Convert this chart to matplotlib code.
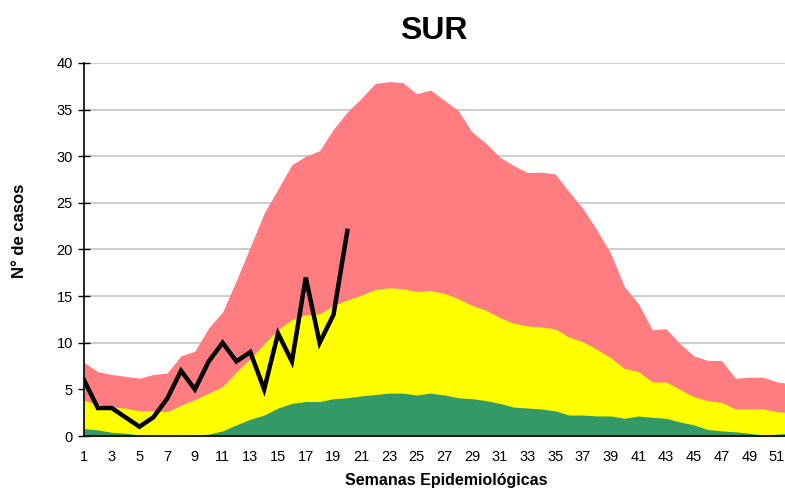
import matplotlib
matplotlib.use("Agg")
import matplotlib.pyplot as plt
from matplotlib import font_manager

weeks = list(range(1, 53))
green_top = [0.8, 0.65, 0.4, 0.3, 0.1, 0.0, 0.0, 0.0, 0.1, 0.2,
             0.55, 1.2, 1.8, 2.25, 3.0, 3.5, 3.7, 3.7, 4.0, 4.1,
             4.3, 4.45, 4.6, 4.6, 4.4, 4.6, 4.4, 4.1, 4.0, 3.8,
             3.5, 3.1, 3.0, 2.9, 2.7, 2.25, 2.25, 2.15, 2.15, 1.9,
             2.15, 2.0, 1.9, 1.5, 1.2, 0.7, 0.55, 0.45, 0.3, 0.1,
             0.2, 0.3]
yellow_top = [3.8, 3.4, 3.1, 3.0, 2.7, 2.7, 2.6, 3.3, 3.9, 4.6,
              5.3, 6.9, 8.3, 9.9, 11.4, 12.5, 13.0, 13.1, 14.0, 14.6,
              15.1, 15.7, 15.9, 15.8, 15.5, 15.6, 15.3, 14.75, 14.0, 13.5,
              12.7, 12.1, 11.8, 11.7, 11.5, 10.6, 10.1, 9.3, 8.4, 7.25,
              6.9, 5.8, 5.8, 5.0, 4.2, 3.8, 3.6, 2.9, 2.9, 2.9,
              2.6, 2.5]
red_top = [7.9, 6.9, 6.6, 6.4, 6.2, 6.6, 6.75, 8.6, 9.1, 11.6,
           13.3, 16.7, 20.3, 23.9, 26.5, 29.1, 30.0, 30.6, 32.9, 34.75,
           36.2, 37.8, 38.0, 37.9, 36.7, 37.1, 36.0, 34.9, 32.6, 31.4,
           29.9, 29.0, 28.25, 28.3, 28.1, 26.2, 24.4, 22.1, 19.6, 16.0,
           14.2, 11.4, 11.5, 9.9, 8.6, 8.1, 8.1, 6.2, 6.3, 6.3,
           5.8, 5.6]
case_weeks = list(range(1, 21))
cases = [6, 3, 3, 2, 1, 2, 4, 7, 5, 8, 10, 8, 9, 5, 11, 8, 17, 10, 13, 22]
xtick_labels = [str(w) for w in range(1, 52, 2)]
yticks = [0, 5, 10, 15, 20, 25, 30, 35, 40]

names = {f.name for f in font_manager.fontManager.ttflist}
narrow = 'Liberation Sans Narrow' if 'Liberation Sans Narrow' in names else 'Liberation Sans'
plt.rcParams['font.family'] = ['Liberation Sans', 'DejaVu Sans']

fig = plt.figure(figsize=(7.85, 4.93), dpi=100)
ax = fig.add_axes([84/785, 57/493, 1 - 84/785, 373/493])
ax.set_axisbelow(True)

ax.fill_between(weeks, 0, red_top, color='#FF7C80', lw=0, zorder=1)
ax.fill_between(weeks, 0, yellow_top, color='#FFFF00', lw=0, zorder=2)
ax.fill_between(weeks, 0, green_top, color='#339966', lw=0, zorder=3)
ax.plot(case_weeks, cases, color='black', lw=3.2, zorder=5, solid_joinstyle='miter')

ax.set_xlim(1, 1 + (785 - 84) / 13.86)
ax.set_ylim(0, 40)
ax.set_yticks(yticks)
ax.set_yticklabels([str(v) for v in yticks], fontsize=10.5)
ax.set_xticks(list(range(1, 52, 2)))
ax.set_xticklabels(xtick_labels, fontsize=10.5, family=[narrow, 'DejaVu Sans'])
ax.tick_params(axis='x', length=0, pad=10)
ax.tick_params(axis='y', direction='inout', length=8, width=1, pad=4)
ax.yaxis.grid(True, color='#C8C8C8', lw=1.3)
for s in ['top', 'right']:
    ax.spines[s].set_visible(False)
for s in ['left', 'bottom']:
    ax.spines[s].set_color('black')
    ax.spines[s].set_linewidth(1.2)
    ax.spines[s].set_zorder(6)

fig.text(434/785, 1 - 31/493, 'SUR', ha='center', va='center', fontsize=23, fontweight='bold')
fig.text(20/785, 1 - 231/493, 'N° de casos', ha='center', va='center', rotation=90,
         fontsize=12, fontweight='bold')
fig.text(446/785, 1 - 481/493, 'Semanas Epidemiológicas', ha='center', va='center',
         fontsize=11.5, fontweight='bold', family=[narrow, 'DejaVu Sans'])

fig.savefig('out.png', dpi=100)
